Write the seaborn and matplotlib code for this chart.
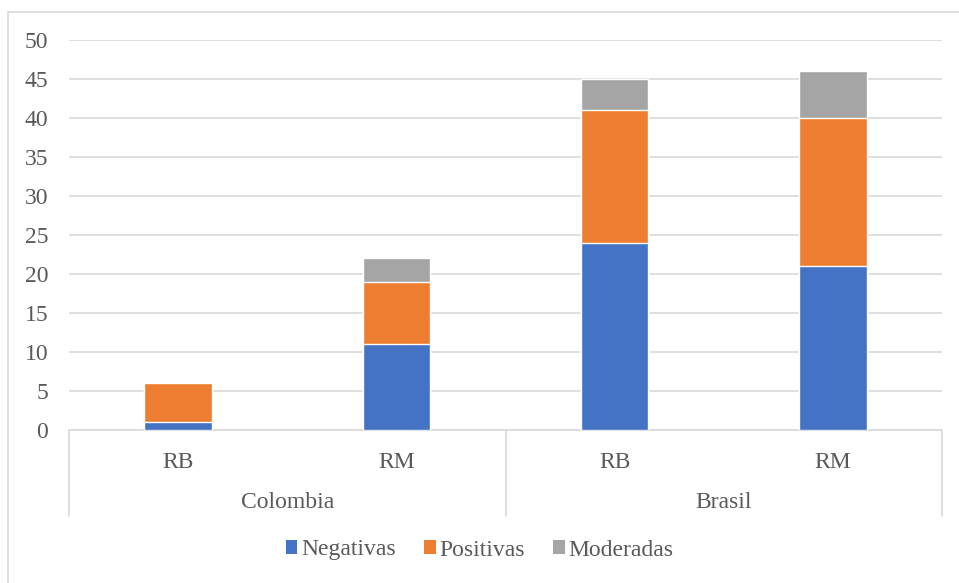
import numpy as np
import pandas as pd
import seaborn as sns
import matplotlib.pyplot as plt
from matplotlib.patches import Patch
from matplotlib.lines import Line2D

# datos
paises = ['Colombia', 'Colombia', 'Brasil', 'Brasil']
regiones = ['RB', 'RM', 'RB', 'RM']
negativas = [1, 11, 24, 21]
positivas = [5, 8, 17, 19]
moderadas = [0, 3, 4, 6]
series = ['Negativas', 'Positivas', 'Moderadas']
colores = ['#4472C4', '#ED7D31', '#A5A5A5']
gris = '#595959'
lineaGris = '#d9d9d9'
fs = 17

sns.set_style('white')
plt.rcParams['font.family'] = ['Liberation Serif', 'DejaVu Serif']

df = pd.DataFrame({
    'pos': [f'{p}-{r}' for p, r in zip(paises, regiones)],
    'Negativas': negativas,
    'Positivas': positivas,
    'Moderadas': moderadas,
})
# acumulados para apilar
df['c1'] = df['Negativas']
df['c2'] = df['c1'] + df['Positivas']
df['c3'] = df['c2'] + df['Moderadas']

W, H = 959, 583
fig = plt.figure(figsize=(W / 100, H / 100), dpi=100)
ax = fig.add_axes([69 / W, 1 - 430 / H, (942 - 69) / W, 390 / H])

for col, color in zip(['c3', 'c2', 'c1'], colores[::-1]):
    sns.barplot(data=df, x='pos', y=col, color=color, width=0.31,
                saturation=1, ax=ax, zorder=3)

ax.set_ylim(0, 50)
ax.set_xlim(-0.5, 3.5)
ax.set_yticks(range(0, 51, 5))
ax.yaxis.grid(True, color=lineaGris, linewidth=1.2, zorder=0)
ax.set_axisbelow(True)
for s in ax.spines.values():
    s.set_visible(False)
ax.set_xlabel('')
ax.set_ylabel('')
ax.set_xticks([])
ax.tick_params(axis='y', length=0, pad=15, labelsize=fs, labelcolor=gris)

# eje de categorías en dos niveles
tr = ax.get_xaxis_transform()
ax.plot([-0.5, 3.5], [0, 0], color=lineaGris, lw=1.2, transform=tr, clip_on=False)
for x in [-0.5, 1.5, 3.5]:
    ax.plot([x, x], [0, -86 / 390], color=lineaGris, lw=1.2, transform=tr, clip_on=False)
for i, r in enumerate(regiones):
    ax.text(i, -32 / 390, r, transform=tr, ha='center', va='center',
            fontsize=fs, color=gris)
for centro, p in [(0.5, 'Colombia'), (2.5, 'Brasil')]:
    ax.text(centro, -72 / 390, p, transform=tr, ha='center', va='center',
            fontsize=fs, color=gris)

# marco exterior
fig.add_artist(Line2D([8 / W, 8 / W], [0, 1 - 12 / H], color=lineaGris, lw=1.2))
fig.add_artist(Line2D([8 / W, 1], [1 - 12 / H, 1 - 12 / H], color=lineaGris, lw=1.2))

handles = [Patch(facecolor=c, edgecolor='none') for c in colores]
fig.legend(handles, series, loc='center', bbox_to_anchor=(0.5, 1 - 550 / H),
           ncol=3, frameon=False, labelcolor=gris,
           prop={'family': 'Liberation Serif', 'size': fs},
           handlelength=0.5, handleheight=0.5, handletextpad=0.15, columnspacing=1.2)

fig.savefig('out.png', dpi=100)
